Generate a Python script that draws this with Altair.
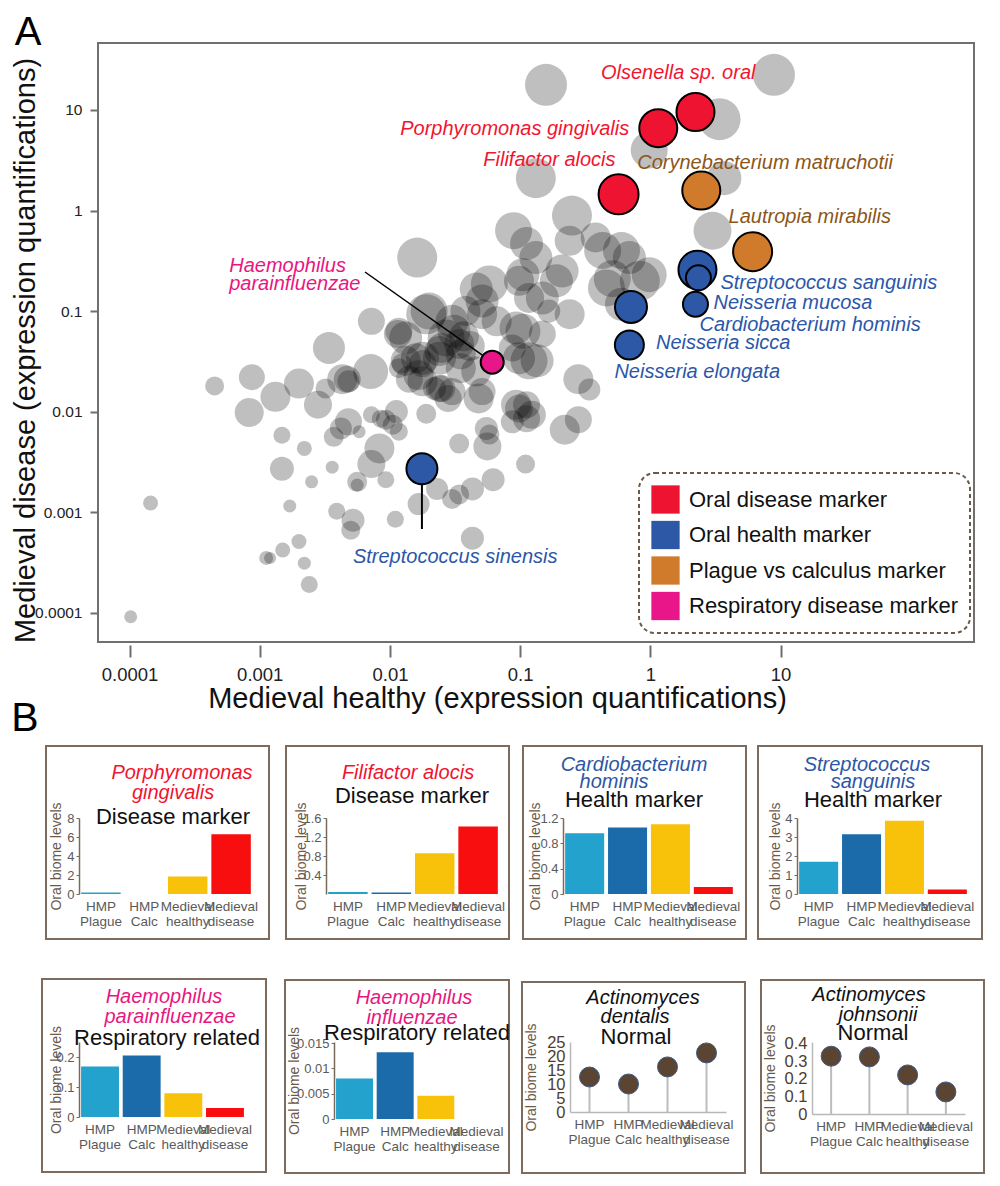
import altair as alt
import pandas as pd

FONT = "Liberation Sans"

# ---------------- Panel A : background taxa (grey bubbles) ----------------
bg_healthy = [0.158, 8.9, 3.4, 0.98, 0.132, 3.7, 3.0, 0.25, 0.089, 0.0162,
              0.112, 0.132, 0.24, 0.38, 0.43, 0.60, 0.69, 0.98, 0.83, 0.51,
              0.46, 0.60, 0.21, 0.19, 0.148, 0.117, 0.098, 0.058, 0.046, 0.051,
              0.066, 0.093, 0.166, 0.24, 0.148, 0.117, 0.28, 0.34, 0.093, 0.112,
              0.020, 0.030, 0.027, 0.034, 0.024, 0.0178, 0.0132, 0.0117, 0.0072, 0.0166,
              0.025, 0.028, 0.051, 0.046, 0.035, 0.0071, 0.0043, 0.0048, 0.0115, 0.0034,
              0.00087, 0.00045, 0.00132, 0.0020, 0.0028, 0.0032, 0.00083, 0.00148, 0.0022, 0.00148,
              0.0036, 0.0037, 0.0042, 0.0048, 0.0058, 0.0072, 0.0085, 0.0112, 0.0105, 0.0117,
              0.0083, 0.0072, 0.019, 0.034, 0.038, 0.051, 0.0132, 0.0158, 0.024, 0.035,
              0.0178, 0.024, 0.048, 0.055, 0.058, 0.0117, 0.135, 0.087, 0.056, 0.098,
              0.112, 0.123, 0.087, 0.22, 0.28, 0.110, 0.062, 0.043, 0.034, 0.030,
              0.023, 0.0166, 0.011, 0.043, 0.0093, 0.0056, 0.0056, 0.000145, 0.0017, 0.0039,
              0.0052, 0.0050, 0.0020, 0.0015, 0.00112, 0.0012, 0.0022, 0.0024, 0.000102, 0.0025,
              0.0047, 0.0093, 0.025, 0.031, 0.037, 0.041, 0.098, 0.105, 0.105, 0.019,
              0.030, 0.022, 0.0141, 0.0123, 0.0178]
bg_disease = [17.8, 22.4, 8.1, 4.0, 2.1, 2.1, 0.63, 0.89, 0.63, 0.34,
              0.47, 0.34, 0.50, 0.54, 0.40, 0.40, 0.34, 0.23, 0.20, 0.21,
              0.17, 0.117, 0.25, 0.20, 0.135, 0.135, 0.20, 0.186, 0.166, 0.126,
              0.079, 0.068, 0.10, 0.093, 0.059, 0.032, 0.021, 0.0166, 0.0117, 0.0117,
              0.10, 0.079, 0.054, 0.047, 0.040, 0.034, 0.054, 0.063, 0.079, 0.023,
              0.017, 0.0135, 0.0158, 0.025, 0.027, 0.025, 0.021, 0.020, 0.059, 0.043,
              0.022, 0.018, 0.014, 0.019, 0.0117, 0.017, 0.0098, 0.0058, 0.0043, 0.0027,
              0.0028, 0.0056, 0.0068, 0.0079, 0.0063, 0.0093, 0.0085, 0.010, 0.0074, 0.0063,
              0.0043, 0.0030, 0.0095, 0.0048, 0.10, 0.093, 0.032, 0.034, 0.034, 0.037,
              0.020, 0.017, 0.0135, 0.0068, 0.0059, 0.027, 0.032, 0.043, 0.0045, 0.0107,
              0.0085, 0.0093, 0.0079, 0.0066, 0.0083, 0.0030, 0.0021, 0.0017, 0.0015, 0.00135,
              0.0017, 0.0012, 0.00085, 0.00055, 0.0021, 0.0020, 0.00186, 0.00123, 0.00115, 0.00102,
              0.00083, 0.00066, 0.00051, 0.00042, 0.00035, 0.00035, 0.00031, 0.00019, 0.000091, 0.0020,
              0.021, 0.0083, 0.043, 0.063, 0.056, 0.045, 0.034, 0.063, 0.23, 0.093,
              0.0158, 0.017, 0.021, 0.030, 0.030]
bg_score = [42, 42, 42, 37, 40, 34, 38, 40, 37, 40,
            33, 33, 30, 30, 37, 37, 33, 35, 40, 37,
            37, 33, 33, 33, 33, 30, 30, 37, 33, 33,
            30, 33, 23, 30, 27, 37, 30, 22, 30, 27,
            37, 33, 37, 30, 30, 33, 33, 27, 27, 30,
            27, 27, 27, 30, 30, 35, 30, 22, 28, 32,
            26, 19, 30, 30, 28, 20, 29, 17, 15, 24,
            13, 20, 22, 27, 13, 17, 18, 23, 20, 18,
            30, 28, 20, 20, 30, 30, 30, 30, 33, 30,
            30, 27, 30, 23, 20, 20, 33, 27, 28, 28,
            27, 28, 23, 30, 27, 19, 23, 23, 20, 20,
            22, 22, 17, 23, 17, 20, 13, 15, 13, 17,
            23, 19, 15, 15, 14, 12, 13, 17, 13, 13,
            27, 20, 30, 33, 30, 30, 32, 35, 33, 40,
            27, 23, 27, 20, 27]

# ---------------- Panel A : highlighted marker taxa ----------------
hl_species = ["Olsenella sp. oral", "Porphyromonas gingivalis", "Filifactor alocis",
              "Corynebacterium matruchotii", "Lautropia mirabilis", "Cardiobacterium hominis",
              "Streptococcus sanguinis", "Neisseria mucosa", "Neisseria sicca",
              "Neisseria elongata", "Haemophilus parainfluenzae", "Streptococcus sinensis"]
hl_marker = ["Oral disease marker", "Oral disease marker", "Oral disease marker",
             "Plague vs calculus marker", "Plague vs calculus marker", "Oral health marker",
             "Oral health marker", "Oral health marker", "Oral health marker",
             "Oral health marker", "Respiratory disease marker", "Oral health marker"]
hl_healthy = [2.22, 1.15, 0.57, 2.46, 6.1, 2.3, 2.34, 2.22, 0.71, 0.69, 0.061, 0.0176]
hl_disease = [9.55, 6.6, 1.45, 1.58, 0.39, 0.257, 0.214, 0.117, 0.11, 0.046, 0.031, 0.0027]
hl_score = [38, 38, 40, 38, 39, 38, 25, 25, 32, 29, 23, 31]

MARKER_TYPES = ["Oral disease marker", "Oral health marker",
                "Plague vs calculus marker", "Respiratory disease marker"]
MARKER_COLORS = ["#ee1431", "#2c58a6", "#d07a2c", "#e9168a"]
LABEL_COLORS = {"Oral disease marker": "#f2152f", "Oral health marker": "#2c57a8",
                "Plague vs calculus marker": "#8b5619", "Respiratory disease marker": "#e8177f"}

AXIS_TICKS = [0.0001, 0.001, 0.01, 0.1, 1, 10]

# ---------------- Panel B data ----------------
CATEGORIES = ["HMP Plague", "HMP Calc", "Medieval healthy", "Medieval disease"]
BAR_COLORS = ["#22a2cc", "#1b6bab", "#f9c20a", "#f80e0e"]
p_gingivalis_levels = [0.15, 0.0, 1.85, 6.3]
f_alocis_levels = [0.04, 0.03, 0.86, 1.42]
c_hominis_levels = [0.96, 1.05, 1.10, 0.11]
s_sanguinis_levels = [1.70, 3.15, 3.85, 0.24]
h_parainfluenzae_levels = [0.17, 0.207, 0.08, 0.03]
h_influenzae_levels = [0.008, 0.0132, 0.0046, 0.0]
a_dentalis_levels = [12.5, 10.0, 16.1, 21.1]
a_johnsonii_levels = [0.33, 0.326, 0.223, 0.126]


def lookup_expr(keys, vals, field):
    return "{" + ", ".join("'%s': '%s'" % (k, v) for k, v in zip(keys, vals)) + "}[datum.%s]" % field


one = pd.DataFrame({"k": [0]})


def anchor_rect(x0, x1, y0, y1):
    # invisible layout anchor (only defines the bounds of a panel)
    return alt.Chart(one).mark_rect(opacity=0).encode(
        x=alt.value(x0), x2=alt.value(x1), y=alt.value(y0), y2=alt.value(y1))


# ====================== Panel A chart ======================
# the plot group starts 19 px left of the framed data area so that it lines up with panel B
INSET = 19
W, H = 895, 599
bg_df = pd.DataFrame({"healthy": bg_healthy, "disease": bg_disease, "score": bg_score})
hl_df = pd.DataFrame({"species": hl_species, "marker": hl_marker,
                      "healthy": hl_healthy, "disease": hl_disease, "score": hl_score})

X = alt.X("healthy:Q",
          scale=alt.Scale(type="log", domain=[4.09e-5, 306], nice=False),
          axis=alt.Axis(title="Medieval healthy (expression quantifications)", values=AXIS_TICKS,
                        format="~g", grid=False, domain=False, tickSize=12, tickWidth=2,
                        tickColor="#6e6e6e", offset=3, labelFontSize=18.5, labelColor="#222",
                        labelPadding=8, titleFontSize=29, titleFontWeight="normal",
                        titleColor="#111", titlePadding=1, titleX=418, labelFlush=False))
Y = alt.Y("disease:Q",
          scale=alt.Scale(type="log", domain=[5.1e-5, 46.4], nice=False),
          axis=alt.Axis(title="Medieval disease (expression quantifications)", values=AXIS_TICKS,
                        format="~g", grid=False, domain=False, tickSize=8, tickWidth=2,
                        tickColor="#6e6e6e", offset=-INSET, labelFontSize=15.5, labelColor="#222",
                        labelPadding=8, titleFontSize=29, titleFontWeight="normal",
                        titleColor="#111", titlePadding=-6, titleY=307, labelFlush=False))
S = alt.Size("score:Q", scale=alt.Scale(type="pow", exponent=2, domain=[0, 42], range=[0, 1764]),
             legend=None)

frame = alt.Chart(one).mark_rect(fillOpacity=0, stroke="#707070", strokeWidth=2).encode(
    x=alt.value(INSET), x2=alt.value(W), y=alt.value(0), y2=alt.value(H))

bg = alt.Chart(bg_df).mark_circle(color="black", opacity=0.25).encode(x=X, y=Y, size=S)

hp_line = alt.Chart(hl_df).transform_filter(
    alt.datum.species == "Haemophilus parainfluenzae").mark_rule(
    color="black", strokeWidth=1.5).encode(x=X, y=Y, x2=alt.value(286), y2=alt.value(229))
ss_line = alt.Chart(hl_df).transform_filter(
    alt.datum.species == "Streptococcus sinensis").mark_rule(
    color="black", strokeWidth=2).encode(x=X, y=Y, y2=alt.value(486))

hl_fill = alt.Chart(hl_df).mark_circle(opacity=1).encode(
    x=X, y=Y, size=S,
    color=alt.Color("marker:N", scale=alt.Scale(domain=MARKER_TYPES, range=MARKER_COLORS),
                    legend=alt.Legend(title=None, orient="none", legendX=560, legendY=430,
                                      symbolType="square", symbolSize=800, symbolStrokeWidth=0,
                                      symbolOpacity=1, labelFontSize=22, labelColor="#111",
                                      labelOffset=9, rowPadding=6.5, padding=12,
                                      cornerRadius=16, strokeColor="#6b5a4a",
                                      fillColor="white", labelLimit=400)))

hl_full = alt.Chart(hl_df).transform_calculate(
    fillc=lookup_expr(MARKER_TYPES, MARKER_COLORS, "marker")).mark_circle(
    opacity=1, stroke="black", strokeWidth=2).encode(
    x=X, y=Y, size=S, fill=alt.Fill("fillc:N", scale=None))

LABEL_PLACEMENT = {
    "Olsenella sp. oral": ("right", 60, -39),
    "Porphyromonas gingivalis": ("right", -29, 1),
    "Filifactor alocis": ("right", -3, -34),
    "Corynebacterium matruchotii": ("left", -64, -28),
    "Lautropia mirabilis": ("left", -24, -35),
    "Cardiobacterium hominis": ("left", 2, 55),
    "Streptococcus sanguinis": ("left", 22, 5),
    "Neisseria mucosa": ("left", 18, -1),
    "Neisseria sicca": ("left", 25, 36),
    "Neisseria elongata": ("left", -15, 27),
    "Streptococcus sinensis": ("left", -69, 88),
}
label_layers = []
for sp, mk in zip(hl_species, hl_marker):
    col = LABEL_COLORS[mk]
    base = alt.Chart(hl_df).transform_filter(alt.datum.species == sp)
    if sp in LABEL_PLACEMENT:
        al, dx, dy = LABEL_PLACEMENT[sp]
        label_layers.append(base.mark_text(align=al, baseline="middle", dx=dx, dy=dy,
                                           fontSize=20, fontStyle="italic", color=col).encode(
            x=X, y=Y, text="species:N"))
    else:
        for line, dy in (("Haemophilus", -96), ("parainfluenzae", -78)):
            label_layers.append(base.mark_text(align="left", baseline="middle", dx=-263, dy=dy,
                                               fontSize=20, fontStyle="italic", color=col).encode(
                x=X, y=Y, text=alt.value(line)))


def letter(s, x, y, size):
    return alt.Chart(pd.DataFrame({"t": [s]})).mark_text(
        fontSize=size, align="center", baseline="top", color="black").encode(
        x=alt.value(x), y=alt.value(y), text="t:N")


top = alt.layer(anchor_rect(-180, -179, 0, 1), frame, bg, hp_line, ss_line, hl_fill, hl_full,
                *label_layers, letter("A", -51, -30, 40), letter("B", -54, 656, 41)).properties(
    width=W, height=H)


# ====================== Panel B charts ======================
def txt(s, x, y, size, color, italic=False):
    return alt.Chart(pd.DataFrame({"t": [s]})).mark_text(
        fontSize=size, color=color, fontStyle="italic" if italic else "normal",
        align="center", baseline="middle").encode(x=alt.value(x), y=alt.value(y), text="t:N")


def small_panel(levels, kind, spec):
    df = pd.DataFrame({"group": CATEGORIES, "level": levels})
    w, h = spec["w"], spec["h"]
    x0, x1, y0, y1 = spec["box"]
    lolli = kind == "lollipop"
    xenc = alt.X("group:N", sort=CATEGORIES,
                 scale=alt.Scale(paddingInner=0.0 if lolli else 0.09,
                                 paddingOuter=0.0 if lolli else 0.05),
                 axis=alt.Axis(title=None, labelAngle=0, labelExpr="split(datum.label, ' ')",
                               domain=lolli, domainColor="#b8b8b8", domainWidth=1.5, ticks=False,
                               labelFontSize=13.5, labelColor="#5a5a5a", labelPadding=5,
                               labelLineHeight=15, labelOverlap=False, labelLimit=300,
                               labelBaseline="top"))
    yenc = alt.Y("level:Q", scale=alt.Scale(domain=[0, spec["ymax"]], nice=False),
                 axis=alt.Axis(values=spec["ticks"], format="~g", grid=False,
                               title="Oral biome levels", titleFontSize=14,
                               titleFontWeight="normal", titleColor="#6b5a4a",
                               titleX=spec["tx"], titleY=h / 2,
                               domainColor="#b8b8b8" if lolli else "#7a6a5a", domainWidth=1.5,
                               ticks=not lolli, tickColor="#7a6a5a", tickSize=3,
                               labelOverlap=False,
                               labelFontSize=16.5 if lolli else 13,
                               labelColor="#4e3d2d" if lolli else "#5a5a5a",
                               labelPadding=5 if lolli else 2))
    layers = [alt.Chart(one).mark_rect(fillOpacity=0, stroke="#7d6b5d", strokeWidth=2).encode(
        x=alt.value(x0), x2=alt.value(x1), y=alt.value(y0), y2=alt.value(y1))]
    if spec.get("ext") is not None:
        layers.append(anchor_rect(spec["ext"], spec["ext"] + 1, y0, y0 + 1))
    if spec.get("gap", 0) > 0:
        layers.append(anchor_rect(x1, x1 + 1 + spec["gap"], y0, y0 + 1))
    if lolli:
        layers.append(alt.Chart(df).mark_rule(color="#bdbdbd", strokeWidth=2).encode(
            x=xenc, y=yenc, y2=alt.datum(0)))
        layers.append(alt.Chart(df).mark_circle(size=400, color="#5b4431", stroke="#3d5a88",
                                                strokeWidth=1, opacity=1).encode(x=xenc, y=yenc))
    else:
        layers.append(alt.Chart(df).transform_calculate(
            barc=lookup_expr(CATEGORIES, BAR_COLORS, "group")).mark_bar().encode(
            x=xenc, y=yenc, fill=alt.Fill("barc:N", scale=None)))
    for s, tx, ty in spec["titles"]:
        layers.append(txt(s, tx, ty, 20, spec["tcolor"], italic=True))
    s, tx, ty = spec["sub"]
    layers.append(txt(s, tx, ty, 22, "#111"))
    return alt.layer(*layers).properties(width=w, height=h)


RED, BLUE, PINK, BLACK = "#f0142f", "#2d57a6", "#e8177f", "#111111"

p1 = small_panel(p_gingivalis_levels, "bar", dict(
    w=174, h=76, box=(-33, 190, -72, 121), ext=-180, gap=15, ymax=8, ticks=[0, 2, 4, 6, 8],
    tx=-16, tcolor=RED, titles=[("Porphyromonas", 103, -45), ("gingivalis", 94, -25)],
    sub=("Disease marker", 94, -1)))
p2 = small_panel(f_alocis_levels, "bar", dict(
    w=174, h=76, box=(-40, 183, -72, 121), gap=12, ymax=1.6, ticks=[0.4, 0.8, 1.2, 1.6], tx=-18,
    tcolor=RED, titles=[("Filifactor alocis", 82, -45)], sub=("Disease marker", 86, -22)))
p3 = small_panel(c_hominis_levels, "bar", dict(
    w=172, h=76, box=(-40, 183, -72, 121), gap=10, ymax=1.2, ticks=[0, 0.4, 0.8, 1.2], tx=-21,
    tcolor=BLUE, titles=[("Cardiobacterium", 71, -53), ("hominis", 51, -36)],
    sub=("Health marker", 71, -18)))
p4 = small_panel(s_sanguinis_levels, "bar", dict(
    w=172, h=76, box=(-39, 185, -72, 121), ymax=4, ticks=[0, 1, 2, 3, 4], tx=-15,
    tcolor=BLUE, titles=[("Streptococcus", 70, -53), ("sanguinis", 76, -36)],
    sub=("Health marker", 76, -18)))
p5 = small_panel(h_parainfluenzae_levels, "bar", dict(
    w=167, h=75, box=(-37, 187, -63, 130), ext=-180, gap=17, ymax=0.252, ticks=[0, 0.1, 0.2],
    tx=-16, tcolor=PINK, titles=[("Haemophilus", 85, -45), ("parainfluenzae", 91, -25)],
    sub=("Respiratory related", 88, -4)))
p6 = small_panel(h_influenzae_levels, "bar", dict(
    w=163, h=77, box=(-49, 175, -62, 131), gap=11, ymax=0.0152, ticks=[0, 0.005, 0.01, 0.015],
    tx=-33, tcolor=PINK, titles=[("Haemophilus", 80, -44), ("influenzae", 78, -24)],
    sub=("Respiratory related", 83, -9)))
p7 = small_panel(a_dentalis_levels, "lollipop", dict(
    w=156, h=70, box=(-48, 175, -60, 131), gap=14, ymax=25, ticks=[0, 5, 10, 15, 20, 25], tx=-32,
    tcolor=BLACK, titles=[("Actinomyces", 73, -44), ("dentalis", 65, -25)],
    sub=("Normal", 66, -5)))
p8 = small_panel(a_johnsonii_levels, "lollipop", dict(
    w=153, h=72, box=(-51, 172, -62, 131), ymax=0.411, ticks=[0, 0.1, 0.2, 0.3, 0.4], tx=-35,
    tcolor=BLACK, titles=[("Actinomyces", 57, -47), ("johnsonii", 66, -27)],
    sub=("Normal", 61, -9)))

row1 = alt.hconcat(p1, p2, p3, p4, spacing=0)
row2 = alt.hconcat(p5, p6, p7, p8, spacing=0)
lower = alt.vconcat(row1, row2, spacing=38)

chart = alt.vconcat(top, lower, spacing=6).properties(
    padding={"left": -109, "top": 5, "right": 0, "bottom": 0}).configure(
    font=FONT).configure_view(strokeWidth=0).configure_legend(strokeDash=[4, 3], strokeWidth=2)

chart.save("out.html", embed_options={"renderer": "svg", "actions": False})
